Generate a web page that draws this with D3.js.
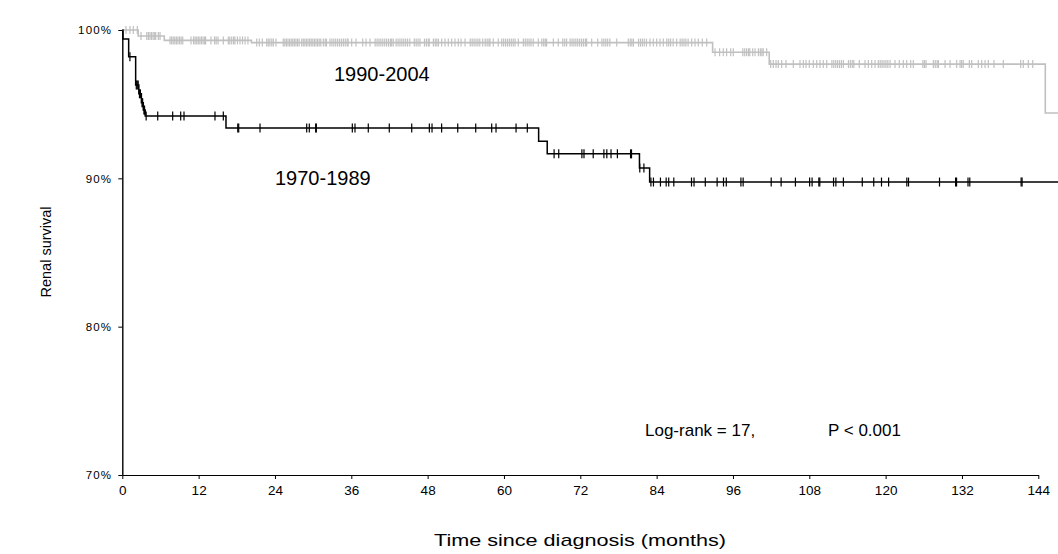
<!DOCTYPE html>
<html><head><meta charset="utf-8">
<script src="https://cdn.jsdelivr.net/npm/d3@7"></script>
<style>
html,body{margin:0;padding:0;background:#fff;overflow:hidden}
text{font-family:"Liberation Sans",Arial,sans-serif;fill:#000}
</style></head><body>
<svg id="c" width="1058" height="554"></svg>
<script>
// ---- data (months, survival %) ----
const xTicks = [0, 12, 24, 36, 48, 60, 72, 84, 96, 108, 120, 132, 144];
const yTicks = [70, 80, 90, 100];
const yTickLabels = ["70%", "80%", "90%", "100%"];

// 1970-1989 cohort: step times and survival after each step
const blackTime = [0, 0.1, 1.0, 2.1, 2.6, 3.0, 3.3, 3.6, 16.3, 65.45, 66.8, 81.3, 82.9];
const blackSurv = [100, 99.4, 98.2, 96.3, 95.7, 95.1, 94.6, 94.2, 93.4, 92.5, 91.65, 90.7, 89.75];
const blackCensor = [1.2, 2.2, 2.35, 2.5, 2.7, 2.85, 3.1, 3.2, 3.4, 3.5, 3.75,
  5.57, 7.92, 9.18, 9.7, 14.57, 15.88,
  18.15, 18.3, 21.65, 28.99, 29.4, 30.4, 30.5, 36.16, 36.58, 38.67, 41.97, 45.5, 48.27, 48.69,
  50.2, 52.73, 55.56, 58.07, 58.75, 61.9, 63.67,
  67.88, 68.61, 72.25, 72.58, 74.03, 75.71, 76.17, 76.83, 77.83, 79.9, 80.05,
  81.35, 82.0,
  83.1, 83.5, 84.6, 85.5, 85.9, 86.7, 89.48, 89.88, 91.65, 93.51, 94.51, 94.95, 97.25, 97.6,
  102.01, 103.57, 105.82, 108.05, 108.44, 109.5, 109.65, 111.81, 112.18, 113.36, 116.33, 118.13,
  119.35, 120.47, 123.33, 123.6, 128.47, 131.0, 131.15, 132.95, 133.23, 141.3, 141.45];

// 1990-2004 cohort
const grayTime = [0, 2.5, 6.6, 20.3, 92.8, 101.7, 145.1];
const graySurv = [100, 99.6, 99.3, 99.15, 98.5, 97.7, 94.4];
const grayCensor = [0.58, 1.21, 1.73, 2.36,
  2.94, 3.85, 4.1, 4.35, 4.6, 4.85, 5.1, 5.25, 5.66, 5.93,
  7.5, 7.75, 8.0, 8.25, 8.5, 8.75, 9.0, 9.25, 9.5, 10.8, 11.2, 11.45, 11.7, 11.95, 12.2, 12.45, 12.7, 12.95, 13.1,
  13.94, 14.5, 14.75, 15.05, 15.88, 16.66, 16.9, 17.2, 17.5, 17.7, 18.1, 18.5, 18.9, 19.3, 19.75,
  21.13, 21.54, 22.01, 22.7, 22.95, 23.2, 23.5, 23.74, 24.16,
  25.3, 25.55, 25.8, 26.05, 26.3, 26.55, 26.8, 27.05, 27.3, 27.55, 27.8, 28.2,
  28.45, 28.7, 28.95, 29.2, 29.45, 29.7, 29.95, 30.2, 30.45, 30.7, 30.95, 31.2, 31.6, 31.9, 32.1,
  32.65, 32.95, 33.25, 33.55, 33.85, 34.15, 34.45, 34.75, 35.05, 35.35, 35.5, 36.06, 36.74, 37.79, 38.31, 38.94,
  39.75, 40.05, 40.35, 40.65, 40.95, 41.25, 41.55, 41.85, 42.15, 42.35, 42.6,
  43.05, 43.35, 43.65, 43.95, 44.25, 44.55, 44.85, 45.2, 45.9, 46.2, 46.5, 46.8,
  47.5, 47.8, 48.1, 48.25, 48.9, 49.2, 49.45, 49.7, 50.21, 50.73, 51.25, 51.78, 52.3, 52.82, 53.25, 53.88,
  54.7, 55.0, 55.3, 55.6, 55.9, 56.2, 56.66, 57.05, 57.35, 57.65, 57.8, 58.32, 59.11,
  59.65, 59.95, 60.25, 60.55, 60.85, 61.15, 61.45, 61.75, 62.25, 63.05, 63.35, 63.65, 63.95, 64.25, 64.6,
  65.4, 65.95, 66.25, 66.5, 66.7, 67.76, 68.54, 69.25, 69.55, 69.85,
  70.4, 70.7, 71.0, 71.3, 71.6, 71.9, 72.2, 72.5, 72.8, 73.0, 73.79, 74.74,
  75.4, 75.7, 76.0, 76.3, 76.65, 77.72, 79.55, 79.85, 80.1, 80.35, 81.15, 81.45, 81.75, 82.05, 82.4,
  82.96, 83.48, 84.01, 84.53, 85.05, 85.6, 85.9, 86.2, 86.6, 87.15, 87.7, 88.0, 88.3, 88.6, 88.95,
  89.51, 90.03, 90.55, 91.18, 91.87,
  93.18, 93.9, 94.48, 95.0, 95.64, 96.05, 97.55, 97.85, 98.15, 98.45, 98.65, 99.1, 99.47,
  100.0, 100.3, 100.55, 100.75, 101.3,
  101.93, 102.34, 102.77, 103.13, 103.66, 104.34, 105.49, 106.54, 107.06, 107.48, 108.0, 108.63, 109.17,
  109.68, 110.2, 110.74, 111.55, 111.85, 112.15, 112.45, 112.75, 113.05, 113.35, 114.15, 114.45, 114.75, 115.0,
  115.86, 116.76, 117.28, 117.81, 118.33, 118.85, 119.15, 119.45, 119.75, 120.05, 120.35, 120.7,
  121.47, 122.15, 122.78, 123.31, 123.94, 124.35, 125.85, 126.1, 126.35, 127.5, 127.8, 128.1, 128.3,
  129.34, 130.13, 131.17, 131.7, 131.95, 132.2, 133.16, 133.53, 134.57, 135.1, 135.63, 136.14, 137.04,
  138.5, 141.23, 141.64, 142.43, 143.12];

const endTime = 148;

// ---- drawing ----
const svg = d3.select("#c");
const x = d3.scaleLinear().domain([0, 144]).range([122.3, 1038.3]);
const y = d3.scaleLinear().domain([70, 100]).range([475, 30]);

const font = '"Liberation Sans", Arial, sans-serif';

// axes
const xAxis = svg.append("g").attr("transform", `translate(0,${y(70)})`)
  .call(d3.axisBottom(x).tickValues(xTicks).tickSize(4).tickSizeOuter(0).tickFormat(d3.format("d")));
xAxis.select(".domain").attr("stroke", "#000").attr("stroke-width", 1.2);
xAxis.selectAll(".tick line").attr("stroke", "#000");
xAxis.selectAll(".tick text").attr("dy", "0.95em").attr("font-size", 13.5).attr("font-family", font).attr("fill", "#000");

const yAxis = svg.append("g").attr("transform", `translate(${x(0)},0)`)
  .call(d3.axisLeft(y).tickValues(yTicks).tickSize(4).tickSizeOuter(0)
    .tickFormat((d, i) => yTickLabels[i]));
yAxis.select(".domain").attr("stroke", "#000").attr("stroke-width", 1.4);
yAxis.selectAll(".tick line").attr("stroke", "#000");
yAxis.selectAll(".tick text").attr("x", -10).attr("font-size", 11.5).attr("letter-spacing", 1.2)
  .attr("font-family", font).attr("fill", "#000");

// step curves
function stepPoints(times, surv) {
  const pts = times.map((t, i) => [t, surv[i]]);
  pts.push([endTime, surv[surv.length - 1]]);
  return pts;
}
function survAt(times, surv, t) {
  const i = d3.bisectRight(times, t) - 1;
  return surv[Math.max(0, i)];
}
const line = d3.line().x(d => x(d[0])).y(d => y(d[1])).curve(d3.curveStepAfter);

const groups = [
  {times: grayTime, surv: graySurv, cens: grayCensor, color: "#c0c0c0", w: 1.6, h: 4},
  {times: blackTime, surv: blackSurv, cens: blackCensor, color: "#000", w: 1.5, h: 4.5}
];
groups.forEach(g => {
  svg.append("path").datum(stepPoints(g.times, g.surv))
    .attr("fill", "none").attr("stroke", g.color).attr("stroke-width", g.w).attr("d", line);
  svg.append("g").selectAll("line").data(g.cens).join("line")
    .attr("x1", d => x(d)).attr("x2", d => x(d))
    .attr("y1", d => y(survAt(g.times, g.surv, d)) - g.h)
    .attr("y2", d => y(survAt(g.times, g.surv, d)) + g.h)
    .attr("stroke", g.color).attr("stroke-width", 1.2);
});

// labels
svg.append("text").attr("x", 334).attr("y", 81).attr("font-size", 20).text("1990-2004");
svg.append("text").attr("x", 275).attr("y", 185).attr("font-size", 20).text("1970-1989");
svg.append("text").attr("x", 645).attr("y", 436).attr("font-size", 17).text("Log-rank = 17,");
svg.append("text").attr("x", 828).attr("y", 436).attr("font-size", 17).text("P < 0.001");

svg.append("text").attr("transform", "translate(51,252) rotate(-90)")
  .attr("text-anchor", "middle").attr("font-size", 14.5).text("Renal survival");
svg.append("text").attr("x", 580).attr("y", 546)
  .attr("text-anchor", "middle").attr("font-size", 17)
  .attr("textLength", 292).attr("lengthAdjust", "spacingAndGlyphs").text("Time since diagnosis (months)");
</script>
</body></html>
